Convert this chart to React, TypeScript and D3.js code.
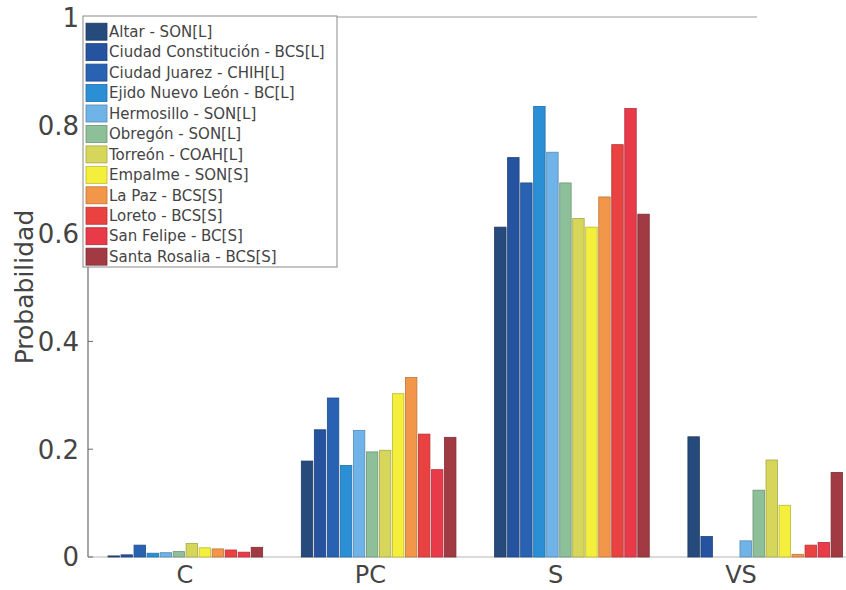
import React from "react";
import * as d3 from "d3";

// Categories on the x axis
const categories = ["C", "PC", "S", "VS"];

// Stations (one bar per station inside each category)
const stations = [
  "Altar - SON[L]",
  "Ciudad Constitución - BCS[L]",
  "Ciudad Juarez - CHIH[L]",
  "Ejido Nuevo León - BC[L]",
  "Hermosillo - SON[L]",
  "Obregón - SON[L]",
  "Torreón - COAH[L]",
  "Empalme - SON[S]",
  "La Paz - BCS[S]",
  "Loreto - BCS[S]",
  "San Felipe - BC[S]",
  "Santa Rosalia - BCS[S]",
];

// Probability per station for each category
const valuesC = [0.002, 0.004, 0.022, 0.007, 0.008, 0.01, 0.025, 0.017, 0.015, 0.013, 0.009, 0.018];
const valuesPC = [0.178, 0.236, 0.295, 0.17, 0.235, 0.195, 0.198, 0.303, 0.333, 0.228, 0.162, 0.222];
const valuesS = [0.612, 0.741, 0.694, 0.836, 0.751, 0.694, 0.628, 0.612, 0.668, 0.765, 0.832, 0.636];
const valuesVS = [0.223, 0.038, 0.0, 0.0, 0.03, 0.124, 0.18, 0.096, 0.005, 0.022, 0.027, 0.157];

const seriesByCategory = [valuesC, valuesPC, valuesS, valuesVS];

const stationColors = [
  "#274a7d",
  "#2553a0",
  "#2a62b3",
  "#2b8fd6",
  "#6fb3e8",
  "#8dbf98",
  "#d6d75a",
  "#f4ef3c",
  "#f29749",
  "#ea4141",
  "#e93a4a",
  "#a23a44",
];

const yTicks = [0, 0.2, 0.4, 0.6, 0.8, 1];
const yTickLabels = ["0", "0.2", "0.4", "0.6", "0.8", "1"];

const FONT = "'DejaVu Sans', 'Liberation Sans', Arial, sans-serif";

export default function App() {
  const width = 846;
  const height = 590;
  const axisX = 88;
  const y0 = 557;
  const y1 = 18;

  const y = d3.scaleLinear().domain([0, 1]).range([y0, y1]);

  const step = 193.3;
  const x = d3
    .scaleBand<string>()
    .domain(categories)
    .range([axisX, axisX + step * (4 - 0.2 + 2 * 0.1035)])
    .paddingInner(0.2)
    .paddingOuter(0.1035);

  const xInner = d3
    .scaleBand<string>()
    .domain(stations)
    .range([0, x.bandwidth()])
    .paddingInner(0.12);

  const labelX = d3.scalePoint<string>().domain(categories).range([185, 741]);

  const edge = (c: string) => d3.color(c)!.darker(0.7).formatHex();

  const legendLeft = 83;
  const legendTop = 16;
  const rowH = 20.45;

  return (
    <svg
      width={width}
      height={height}
      style={{ position: "absolute", left: 0, top: 0, background: "#fff" }}
    >
      {/* frame lines */}
      <line x1={axisX} x2={757} y1={y1 - 1} y2={y1 - 1} stroke="#9a9a9a" strokeWidth={1} />
      <line x1={axisX} x2={width} y1={y0} y2={y0} stroke="#b5b5b5" strokeWidth={1} />

      {/* bars */}
      {categories.map((cat, ci) => (
        <g key={cat} transform={`translate(${x(cat)},0)`}>
          {stations.map((s, si) => {
            const v = seriesByCategory[ci][si];
            const top = y(v);
            return (
              <rect
                key={s}
                x={xInner(s)}
                y={top}
                width={xInner.bandwidth()}
                height={Math.max(0, y0 - top)}
                fill={stationColors[si]}
                stroke={edge(stationColors[si])}
                strokeWidth={0.8}
              />
            );
          })}
        </g>
      ))}

      {/* y axis */}
      <line x1={axisX} x2={axisX} y1={y1 - 1} y2={y0} stroke="#6a6a6a" strokeWidth={1.2} />
      {yTicks.map((t, i) => (
        <g key={t}>
          <line x1={axisX} x2={axisX + 5} y1={y(t)} y2={y(t)} stroke="#6a6a6a" />
          <text
            x={79}
            y={y(t)}
            dy="0.36em"
            textAnchor="end"
            fontFamily={FONT}
            fontSize={26}
            fill="#444"
          >
            {yTickLabels[i]}
          </text>
        </g>
      ))}
      <text
        transform={`translate(33,287) rotate(-90)`}
        textAnchor="middle"
        fontFamily={FONT}
        fontSize={25}
        fill="#444"
      >
        Probabilidad
      </text>

      {/* x labels */}
      {categories.map((cat) => (
        <text
          key={cat}
          x={labelX(cat)}
          y={583}
          textAnchor="middle"
          fontFamily={FONT}
          fontSize={24}
          fill="#444"
        >
          {cat}
        </text>
      ))}

      {/* legend */}
      <g>
        <rect
          x={legendLeft}
          y={legendTop}
          width={254}
          height={251}
          fill="#fff"
          stroke="#8a8a8a"
          strokeWidth={1}
        />
        {stations.map((s, i) => {
          const cy = legendTop + 15.7 + i * rowH;
          return (
            <g key={s}>
              <rect
                x={legendLeft + 3}
                y={cy - 8.5}
                width={21}
                height={17}
                fill={stationColors[i]}
                stroke={edge(stationColors[i])}
                strokeWidth={0.8}
              />
              <text
                x={legendLeft + 26}
                y={cy}
                dy="0.35em"
                fontFamily={FONT}
                fontSize={15}
                fill="#444"
              >
                {s}
              </text>
            </g>
          );
        })}
      </g>
    </svg>
  );
}
